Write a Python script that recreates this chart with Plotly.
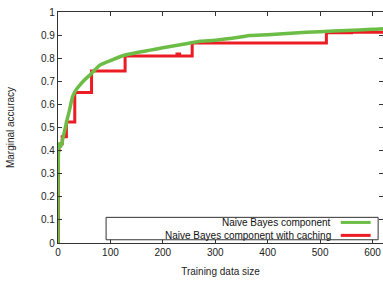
import plotly.graph_objects as go

# ---- data ----
series_names = ["Naive Bayes component", "Naive Bayes component with caching"]

green_x = [0, 1, 3, 6, 9, 13, 18, 22, 28, 35, 42, 50, 62, 80, 100, 130, 176, 200, 250, 271, 300, 348, 366, 400, 474, 500, 550, 600, 620]
green_y = [0.0, 0.40, 0.43, 0.42, 0.45, 0.49, 0.54, 0.575, 0.635, 0.665, 0.685, 0.705, 0.73, 0.77, 0.79, 0.815, 0.835, 0.845, 0.865, 0.873, 0.878, 0.892, 0.898, 0.902, 0.912, 0.915, 0.92, 0.925, 0.928]

red_x = [0, 1, 2, 4, 8, 16, 32, 64, 128, 227, 232, 256, 512, 560, 620]
red_y = [0.0, 0.40, 0.42, 0.43, 0.46, 0.524, 0.652, 0.745, 0.81, 0.818, 0.81, 0.866, 0.91, 0.912, 0.915]

x_ticks = [0, 100, 200, 300, 400, 500, 600]
y_ticks = [0, 0.1, 0.2, 0.3, 0.4, 0.5, 0.6, 0.7, 0.8, 0.9, 1]
y_tick_labels = ["0", "0.1", "0.2", "0.3", "0.4", "0.5", "0.6", "0.7", "0.8", "0.9", "1"]

GREEN = "#6cbd45"
RED = "#ec1c24"
FONT = "Liberation Sans, Arial, sans-serif"

fig = go.Figure()
fig.add_trace(go.Scatter(x=red_x, y=red_y, mode="lines", line=dict(color=RED, width=3, shape="hv"),
                         name=series_names[1], showlegend=False))
fig.add_trace(go.Scatter(x=green_x, y=green_y, mode="lines", line=dict(color=GREEN, width=3.5, shape="spline", smoothing=0.6),
                         name=series_names[0], showlegend=False))

axis_common = dict(showline=True, linecolor="#333333", linewidth=1.2, mirror="ticks",
                   ticks="inside", ticklen=4, tickcolor="#333333", showgrid=False, zeroline=False,
                   tickfont=dict(family=FONT, size=10, color="#222222"))

fig.update_xaxes(range=[0, 620], tickvals=x_ticks, title=dict(text="Training data size", standoff=10,
                 font=dict(family=FONT, size=10, color="#222222")), **axis_common)
fig.update_yaxes(range=[0, 1], tickvals=y_ticks, ticktext=y_tick_labels,
                 title=dict(text="Marginal accuracy", standoff=24, font=dict(family=FONT, size=10, color="#222222")),
                 **axis_common)

# custom legend (text right-aligned, sample line on the right)
fig.add_shape(type="rect", xref="paper", yref="paper", x0=0.148, x1=0.985, y0=0.014, y1=0.111,
              line=dict(color="#333333", width=1), fillcolor="white", layer="above")
legend_rows = [(series_names[0], GREEN, 0.089), (series_names[1], RED, 0.033)]
for name, col, yy in legend_rows:
    fig.add_annotation(text=name, xref="paper", yref="paper", x=0.846, y=yy, xanchor="right", yanchor="middle",
                       showarrow=False, font=dict(family=FONT, size=10, color="#111111"))
    fig.add_shape(type="line", xref="paper", yref="paper", x0=0.870, x1=0.962, y0=yy, y1=yy,
                  line=dict(color=col, width=3), layer="above")

fig.update_layout(width=383, height=281, margin=dict(l=58, r=0, t=12, b=38, autoexpand=False),
                  plot_bgcolor="white", paper_bgcolor="white", showlegend=False,
                  font=dict(family=FONT, size=10))
fig.write_html("out.html", config={"displayModeBar": False, "staticPlot": True},
               post_script="document.body.style.margin='0';document.body.style.overflow='hidden';")
